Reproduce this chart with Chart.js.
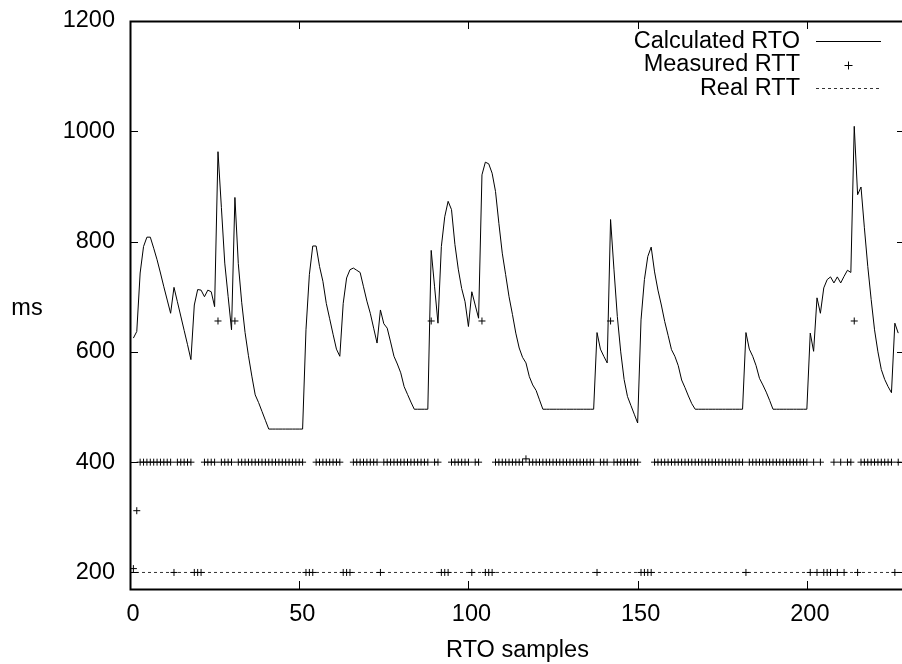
<!DOCTYPE html>
<html><head><meta charset="utf-8">
<style>html,body{margin:0;padding:0;background:#fff;overflow:hidden;width:902px;height:664px}canvas{display:block}</style>
<script src="https://cdn.jsdelivr.net/npm/chart.js@4.4.0/dist/chart.umd.min.js"></script>
</head><body>
<canvas id="c" width="910" height="664"></canvas>
<script>
// sample index (x) for every RTO sample
const samples = [
1,2,3,4,5,6,7,8,9,10,11,12,13,14,15,16,17,18,19,20,
21,22,23,24,25,26,27,28,29,30,31,32,33,34,35,36,37,38,39,40,
41,42,43,44,45,46,47,48,49,50,51,52,53,54,55,56,57,58,59,60,
61,62,63,64,65,66,67,68,69,70,71,72,73,74,75,76,77,78,79,80,
81,82,83,84,85,86,87,88,89,90,91,92,93,94,95,96,97,98,99,100,
101,102,103,104,105,106,107,108,109,110,111,112,113,114,115,116,117,118,119,120,
121,122,123,124,125,126,127,128,129,130,131,132,133,134,135,136,137,138,139,140,
141,142,143,144,145,146,147,148,149,150,151,152,153,154,155,156,157,158,159,160,
161,162,163,164,165,166,167,168,169,170,171,172,173,174,175,176,177,178,179,180,
181,182,183,184,185,186,187,188,189,190,191,192,193,194,195,196,197,198,199,200,
201,202,203,204,205,206,207,208,209,210,211,212,213,214,215,216,217,218,219,220,
221,222,223,224,225,226,227];

const calculatedRTO = [
625,637,743,791,808,808,788,767,743,718, 694,670,717,691,665,639,613,586,685,713,
712,700,712,709,682,963,862,761,700,640, 880,760,690,635,593,556,522,508,492,476,
460,460,460,460,460,460,460,460,460,460, 460,640,740,792,792,755,728,688,660,632,
605,592,688,734,749,752,748,744,718,692, 670,643,616,676,651,643,618,592,578,562,
537,523,509,496,496,496,496,496,784,718, 652,791,845,873,858,795,750,715,691,646,
709,685,661,921,944,941,924,891,833,779, 740,700,668,634,607,590,580,555,540,530,
513,496,496,496,496,496,496,496,496,496, 496,496,496,496,496,496,496,635,605,592,
580,840,750,664,600,550,519,503,487,471, 658,731,773,790,745,712,685,655,630,604,
592,575,549,535,520,506,496,496,496,496, 496,496,496,496,496,496,496,496,496,496,
496,635,605,592,575,552,540,527,512,496, 496,496,496,496,496,496,496,496,496,496,
634,601,698,670,716,731,736,725,736,725, 737,748,744,1009,885,899,825,755,695,640,
600,568,550,537,526,652,634];

const measuredRTT = [
207,312,400,400,400,400,400,400,400,400, 400,400,200,400,400,400,400,400,200,200,
200,400,400,400,400,656,400,400,400,400, 656,400,400,400,400,400,400,400,400,400,
400,400,400,400,400,400,400,400,400,400, 400,200,200,200,400,400,400,400,400,400,
400,400,200,200,200,400,400,400,400,400, 400,400,400,200,400,400,400,400,400,400,
400,400,400,400,400,400,400,400,656,400, 400,200,200,200,400,400,400,400,400,400,
200,400,400,656,200,200,200,400,400,400, 400,400,400,400,400,400,406,400,400,400,
400,400,400,400,400,400,400,400,400,400, 400,400,400,400,400,400,400,200,400,400,
400,656,400,400,400,400,400,400,400,400, 200,200,200,200,400,400,400,400,400,400,
400,400,400,400,400,400,400,400,400,400, 400,400,400,400,400,400,400,400,400,400,
400,200,400,400,400,400,400,400,400,400, 400,400,400,400,400,400,400,400,400,400,
200,400,200,400,200,200,200,400,200,400, 200,400,400,656,200,400,400,400,400,400,
400,400,400,400,400,200,400];

const realX = [0, 229];
const realRTT = [200, 200];

const xTickValues = [0, 50, 100, 150, 200];
const yTickValues = [200, 400, 600, 800, 1000, 1200];
const seriesNames = ['Calculated RTO', 'Measured RTT', 'Real RTT'];

const FONT = '"Liberation Sans", Arial, Helvetica, sans-serif';
const FS = 23.5;

const framePlugin = {
  id: 'gnuframe',
  afterDraw(chart) {
    const {ctx, chartArea: a, scales: {x, y}} = chart;
    ctx.save();
    ctx.strokeStyle = '#000';
    ctx.lineWidth = 1;
    ctx.beginPath();
    xTickValues.forEach(v => {
      const px = Math.round(x.getPixelForValue(v)) + 0.5;
      ctx.moveTo(px, a.bottom); ctx.lineTo(px, a.bottom - 8);
      ctx.moveTo(px, a.top); ctx.lineTo(px, a.top + 8);
    });
    yTickValues.forEach(v => {
      const py = Math.round(y.getPixelForValue(v)) + 0.5;
      ctx.moveTo(a.left, py); ctx.lineTo(a.left + 8, py);
      ctx.moveTo(a.right, py); ctx.lineTo(a.right - 8, py);
    });
    ctx.stroke();
    ctx.lineWidth = 2;
    ctx.strokeRect(a.left + 0.5, a.top + 0.5, a.right - a.left, a.bottom - a.top);

    // axis titles
    ctx.fillStyle = '#000';
    ctx.font = FS + 'px ' + FONT;
    ctx.textAlign = 'center';
    ctx.textBaseline = 'alphabetic';
    ctx.fillText('RTO samples', (a.left + a.right) / 2, 656.5);
    ctx.textBaseline = 'middle';
    ctx.fillText('ms', 27, (a.top + a.bottom) / 2 + 4);

    // key (gnuplot style: text right-aligned, sample to the right)
    const ys = [41.7, 65, 88.3];
    ctx.textAlign = 'right';
    seriesNames.forEach((n, i) => ctx.fillText(n, 800, ys[i]));
    const ds = chart.data.datasets;
    ctx.lineWidth = 1;
    ctx.strokeStyle = ds[0].borderColor;
    ctx.beginPath(); ctx.moveTo(816, 41.5); ctx.lineTo(881, 41.5); ctx.stroke();
    ctx.strokeStyle = ds[1].borderColor;
    ctx.beginPath(); ctx.moveTo(844.5, 65.5); ctx.lineTo(852.5, 65.5); ctx.moveTo(848.5, 61.5); ctx.lineTo(848.5, 69.5); ctx.stroke();
    ctx.strokeStyle = ds[2].borderColor;
    ctx.setLineDash(ds[2].borderDash);
    ctx.beginPath(); ctx.moveTo(816, 88.5); ctx.lineTo(881, 88.5); ctx.stroke();
    ctx.restore();
  }
};

const tickFont = {family: FONT, size: FS};

new Chart(document.getElementById('c'), {
  type: 'scatter',
  data: {
    datasets: [
      {label: seriesNames[0], data: samples.map((s, i) => ({x: s, y: calculatedRTO[i]})),
       showLine: true, borderColor: '#000', borderWidth: 1, pointRadius: 0, tension: 0, fill: false},
      {label: seriesNames[1], data: samples.map((s, i) => ({x: s, y: measuredRTT[i]})),
       showLine: false, pointStyle: 'cross', pointRadius: 3.5, borderColor: '#000', backgroundColor: '#000', borderWidth: 1},
      {label: seriesNames[2], data: realX.map((s, i) => ({x: s, y: realRTT[i]})),
       showLine: true, borderColor: '#333', borderWidth: 1, borderDash: [3, 3], pointRadius: 0}
    ]
  },
  options: {
    responsive: false, animation: false, devicePixelRatio: 1,
    layout: {padding: {top: 21, right: 0, left: 0, bottom: 0}},
    plugins: {legend: {display: false}, tooltip: {enabled: false}},
    scales: {
      x: {type: 'linear', min: 0, max: 229,
          afterFit(s) { s.height = 75; s.paddingLeft = 0; s.paddingRight = 0; },
          afterBuildTicks(s) { s.ticks = xTickValues.map(v => ({value: v})); },
          ticks: {color: '#000', font: tickFont, padding: 11, labelOffset: 3, maxRotation: 0, autoSkip: false,
                  callback: v => String(v)},
          grid: {display: false, drawTicks: false}, border: {display: false}},
      y: {type: 'linear', min: 170, max: 1200,
          afterFit(s) { s.width = 130; s.paddingTop = 0; s.paddingBottom = 0; },
          afterBuildTicks(s) { s.ticks = yTickValues.map(v => ({value: v})); },
          ticks: {color: '#000', font: tickFont, padding: 15, autoSkip: false, callback: v => String(v)},
          grid: {display: false, drawTicks: false}, border: {display: false}}
    }
  },
  plugins: [framePlugin]
});
</script>
</body></html>
